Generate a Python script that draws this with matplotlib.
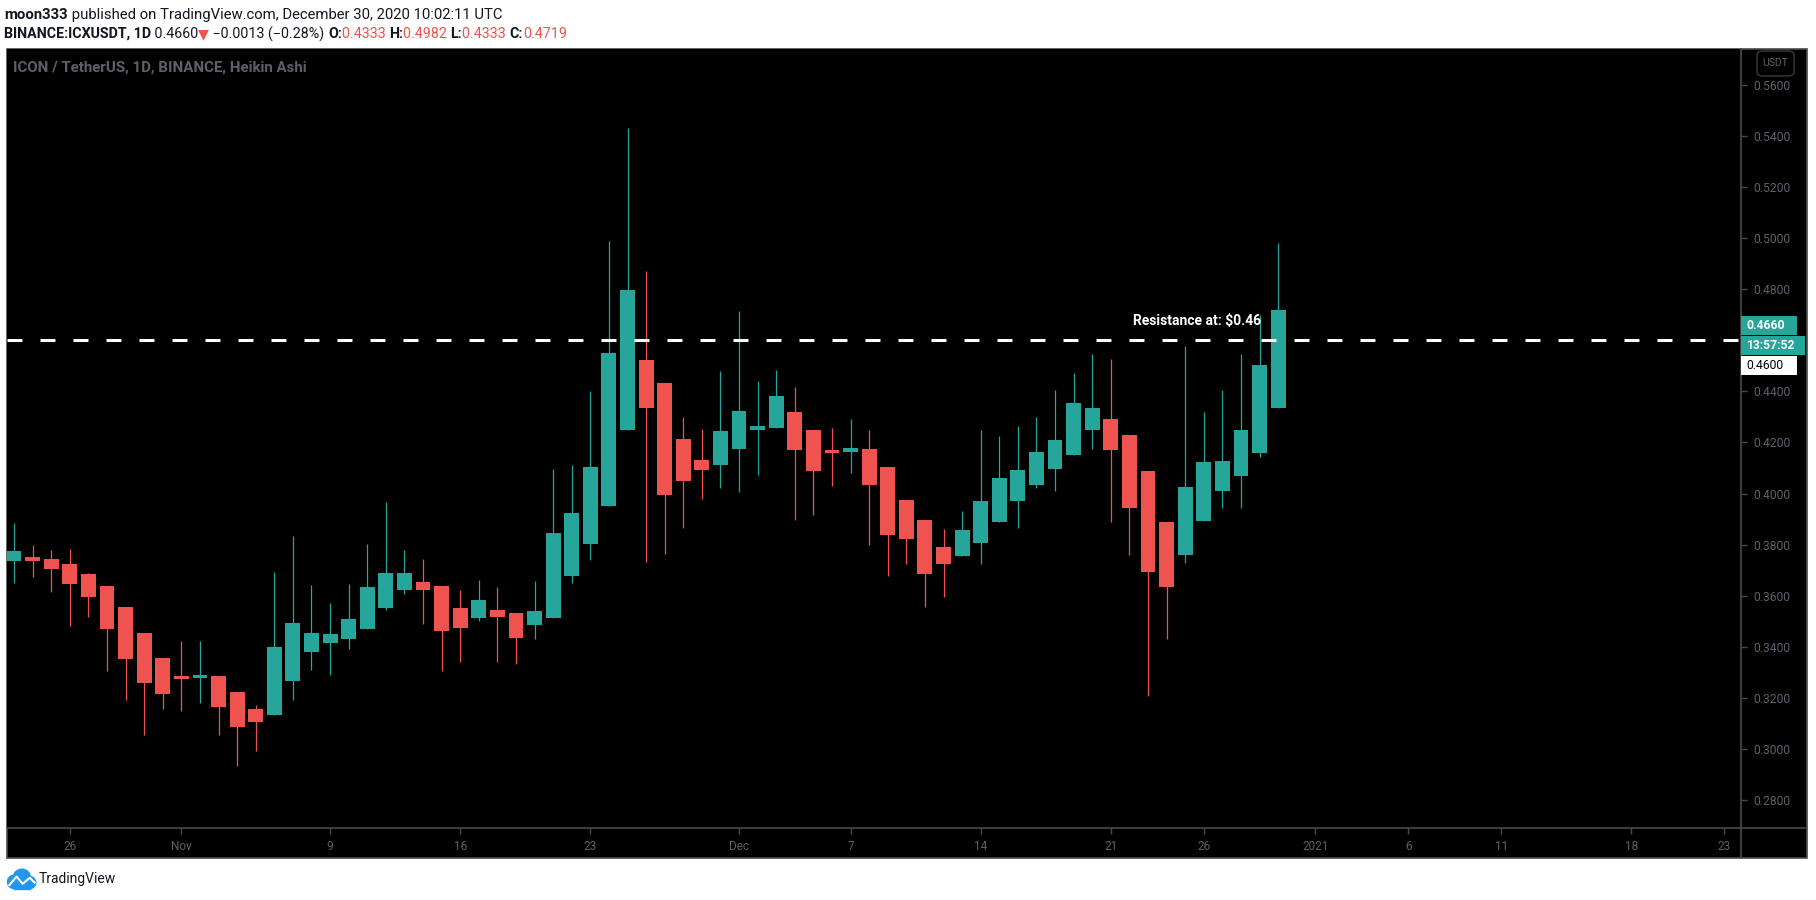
import matplotlib
matplotlib.use('Agg')
import matplotlib.pyplot as plt
import matplotlib.dates as mdates
import pandas as pd
from matplotlib.patches import Rectangle, Circle, FancyBboxPatch
from matplotlib.lines import Line2D
from matplotlib.transforms import blended_transform_factory

plt.rcParams['font.family'] = ['Roboto', 'DejaVu Sans']

# Heikin Ashi candles, ICXUSDT 1D, from 23 Oct 2020
start_day = '2020-10-23'
opens = [0.3735, 0.3753, 0.3745, 0.3725, 0.3686, 0.3639, 0.3557, 0.3455, 0.3357, 0.3286,
         0.3279, 0.3286, 0.3224, 0.3157, 0.3131, 0.3264, 0.3378, 0.3413, 0.3429, 0.3468,
         0.3550, 0.3621, 0.3655, 0.3639, 0.3553, 0.3511, 0.3545, 0.3533, 0.3484, 0.3511,
         0.3676, 0.3801, 0.3950, 0.4248, 0.4522, 0.4431, 0.4212, 0.4133, 0.4111, 0.4174,
         0.4248, 0.4256, 0.4318, 0.4247, 0.4169, 0.4162, 0.4173, 0.4102, 0.3973, 0.3898,
         0.3792, 0.3754, 0.3805, 0.3888, 0.3970, 0.4033, 0.4095, 0.4150, 0.4247, 0.4290,
         0.4231, 0.4090, 0.3890, 0.3758, 0.3891, 0.4009, 0.4068, 0.4158, 0.4333]
highs = [0.3886, 0.3800, 0.3780, 0.3784, 0.3690, 0.3639, 0.3557, 0.3455, 0.3357, 0.3424,
         0.3424, 0.3286, 0.3224, 0.3173, 0.3694, 0.3835, 0.3643, 0.3573, 0.3647, 0.3804,
         0.3965, 0.3780, 0.3745, 0.3639, 0.3624, 0.3663, 0.3635, 0.3533, 0.3659, 0.4098,
         0.4110, 0.4400, 0.4988, 0.5431, 0.4871, 0.4431, 0.4298, 0.4251, 0.4478, 0.4714,
         0.4439, 0.4482, 0.4416, 0.4247, 0.4255, 0.4290, 0.4247, 0.4102, 0.3973, 0.3898,
         0.3863, 0.3933, 0.4247, 0.4224, 0.4263, 0.4298, 0.4404, 0.4471, 0.4545, 0.4525,
         0.4231, 0.4090, 0.3890, 0.4576, 0.4318, 0.4404, 0.4545, 0.4698, 0.4982]
lows = [0.3648, 0.3672, 0.3613, 0.3480, 0.3515, 0.3303, 0.3190, 0.3056, 0.3158, 0.3150,
        0.3178, 0.3056, 0.2931, 0.2990, 0.3131, 0.3190, 0.3307, 0.3291, 0.3390, 0.3468,
        0.3542, 0.3605, 0.3488, 0.3303, 0.3342, 0.3500, 0.3342, 0.3334, 0.3432, 0.3511,
        0.3648, 0.3739, 0.3950, 0.4248, 0.3731, 0.3762, 0.3864, 0.3978, 0.4021, 0.4005,
        0.4072, 0.4256, 0.3895, 0.3915, 0.4029, 0.4080, 0.3797, 0.3676, 0.3723, 0.3554,
        0.3593, 0.3754, 0.3723, 0.3888, 0.3864, 0.4021, 0.4009, 0.4150, 0.4174, 0.3890,
        0.3758, 0.3208, 0.3429, 0.3727, 0.3891, 0.3942, 0.3942, 0.4142, 0.4333]
closes = [0.3773, 0.3735, 0.3703, 0.3644, 0.3593, 0.3468, 0.3350, 0.3256, 0.3213, 0.3274,
          0.3290, 0.3162, 0.3084, 0.3107, 0.3400, 0.3494, 0.3455, 0.3451, 0.3510, 0.3635,
          0.3690, 0.3690, 0.3621, 0.3460, 0.3472, 0.3584, 0.3515, 0.3436, 0.3541, 0.3847,
          0.3925, 0.4102, 0.4549, 0.4796, 0.4335, 0.3993, 0.4048, 0.4091, 0.4243, 0.4325,
          0.4263, 0.4380, 0.4170, 0.4087, 0.4158, 0.4180, 0.4033, 0.3836, 0.3821, 0.3684,
          0.3723, 0.3859, 0.3969, 0.4059, 0.4094, 0.4161, 0.4208, 0.4353, 0.4333, 0.4170,
          0.3942, 0.3691, 0.3633, 0.4027, 0.4125, 0.4129, 0.4247, 0.4502, 0.4719]

tick_days = ['2020-10-26', '2020-11-01', '2020-11-09', '2020-11-16', '2020-11-23',
             '2020-12-01', '2020-12-07', '2020-12-14', '2020-12-21', '2020-12-26',
             '2021-01-01', '2021-01-06', '2021-01-11', '2021-01-18', '2021-01-23']
tick_names = ['26', 'Nov', '9', '16', '23', 'Dec', '7', '14', '21', '26',
              '2021', '6', '11', '18', '23']
price_ticks = [0.28, 0.30, 0.32, 0.34, 0.36, 0.38, 0.40, 0.42, 0.44, 0.48,
               0.50, 0.52, 0.54, 0.56]

resistance = 0.46
last_price = 0.4660
countdown = '13:57:52'

UP = '#26a69a'
DOWN = '#ef5350'
GREY = '#5d606b'
EDGE = '#4a4a4a'
INK = '#131722'

W, H = 1816, 900


def fx(px):
    return px / W


def fy(py):
    return 1 - py / H


fig = plt.figure(figsize=(W / 100, H / 100), dpi=100)
fig.patch.set_facecolor('white')

# black chart frame with price / time scales
fig.patches.append(Rectangle((fx(7), fy(858)), fx(1807) - fx(7), fy(49) - fy(858),
                             transform=fig.transFigure, fc='black', ec=EDGE, lw=1.2, zorder=-5))

ax = fig.add_axes([fx(7), fy(828), fx(1741) - fx(7), fy(49) - fy(828)])
ax.set_facecolor('black')
for s in ax.spines.values():
    s.set_visible(False)

days = mdates.date2num(pd.date_range(start_day, periods=len(opens), freq='D'))
cols = [UP if c >= o else DOWN for o, c in zip(opens, closes)]
bottoms = [min(o, c) for o, c in zip(opens, closes)]
heights = [max(abs(c - o), 0.0006) for o, c in zip(opens, closes)]

ax.vlines(days, lows, highs, colors=cols, lw=0.9, zorder=2)
ax.bar(days, heights, width=0.8, bottom=bottoms, color=cols, zorder=3)

ax.set_xlim(days[0] - 0.38, days[-1] + 24.9)
ax.set_ylim(0.2690, 0.5741)

ax.set_xticks(mdates.date2num(pd.to_datetime(tick_days)))
ax.set_xticklabels(tick_names)
ax.tick_params(axis='x', direction='out', length=4, width=1, color=EDGE,
               labelcolor=GREY, labelsize=8.5, pad=5)

ax.yaxis.tick_right()
ax.set_yticks(price_ticks)
ax.set_yticklabels([f'{p:.4f}' for p in price_ticks])
ax.tick_params(axis='y', direction='out', length=4, width=1, color=EDGE,
               labelcolor=GREY, labelsize=8.7, pad=5)

# resistance line and label
ax.axhline(resistance, color='white', lw=2.2, dashes=(4.9, 5.9), zorder=5)
mix = blended_transform_factory(ax.transAxes, ax.transData)
ax.text(0.7232, resistance + 0.0075, 'Resistance at: \\$0.46', transform=mix,
        ha='right', va='center', color='white', fontsize=10, weight='bold', zorder=6)

# scale separators
fig.lines.append(Line2D([fx(1741), fx(1741)], [fy(49), fy(858)], transform=fig.transFigure,
                        color=EDGE, lw=1.2))
fig.lines.append(Line2D([fx(7), fx(1807)], [fy(828), fy(828)], transform=fig.transFigure,
                        color=EDGE, lw=1.2))

# legend of the series
fig.text(fx(13), fy(68), 'ICON / TetherUS, 1D, BINANCE, Heikin Ashi', color=GREY,
         fontsize=10.8, weight='bold', va='center')

# currency badge
fig.patches.append(FancyBboxPatch((fx(1757), fy(76)), fx(37), 25 / H,
                                  boxstyle='round,pad=0,rounding_size=0.004',
                                  transform=fig.transFigure, fc='black', ec='#3a3a3a', lw=1))
fig.text(fx(1775.5), fy(63.5), 'USDT', color=GREY, fontsize=7.5, ha='center', va='center')

# price scale labels for last price / countdown / resistance
ypx = H - ax.transData.transform((days[0], last_price))[1]
bh = 19
for top, wpx, fc, tc, txt, wt in [(ypx - bh / 2, 56, UP, 'white', f'{last_price:.4f}', 'bold'),
                                  (ypx + bh / 2 + 1, 64, UP, 'white', countdown, 'bold'),
                                  (ypx + 1.5 * bh + 2, 56, 'white', 'black', f'{resistance:.4f}', 'normal')]:
    fig.patches.append(Rectangle((fx(1741), fy(top + bh)), fx(wpx), bh / H,
                                 transform=fig.transFigure, fc=fc, ec='none', zorder=5))
    fig.text(fx(1746), fy(top + bh / 2), txt, color=tc, fontsize=8.7, weight=wt,
             va='center', ha='left', zorder=6)

# header lines
renderer = fig.canvas.get_renderer()


def put_line(pieces, x, y, size):
    for s, color, weight in pieces:
        t = fig.text(x, y, s, color=color, weight=weight, fontsize=size, va='center', ha='left')
        x += t.get_window_extent(renderer=renderer).width / W


put_line([('moon333', INK, 'bold'),
          (' published on TradingView.com, December 30, 2020 10:02:11 UTC', INK, 'normal')],
         fx(4), fy(15), 10.7)
put_line([('BINANCE:ICXUSDT, 1D', INK, 'bold'),
          (' 0.4660', INK, 'normal'),
          ('▼', DOWN, 'normal'),
          (' \u22120.0013 (\u22120.28%) ', INK, 'normal'),
          ('O:', INK, 'bold'), (f'{opens[-1]:.4f} ', DOWN, 'normal'),
          ('H:', INK, 'bold'), (f'{highs[-1]:.4f} ', DOWN, 'normal'),
          ('L:', INK, 'bold'), (f'{lows[-1]:.4f} ', DOWN, 'normal'),
          ('C:', INK, 'bold'), (f'{closes[-1]:.4f}', DOWN, 'normal')],
         fx(4), fy(34), 10.3)

# TradingView logo
lg = fig.add_axes([fx(7), fy(891), fx(30), 24 / H])
lg.set_xlim(0, 1.25)
lg.set_ylim(0, 1)
lg.axis('off')
for cx, cy, r in [(0.3, 0.38, 0.28), (0.62, 0.55, 0.36), (0.95, 0.35, 0.25)]:
    lg.add_patch(Circle((cx, cy), r, color='#2196f3'))
lg.add_patch(Rectangle((0.3, 0.1), 0.65, 0.3, color='#2196f3'))
lg.plot([0.1, 0.4, 0.65, 0.95, 1.15], [0.25, 0.6, 0.3, 0.55, 0.35], color='white', lw=1.5)
fig.text(fx(39), fy(879), 'TradingView', color=INK, fontsize=10, va='center', ha='left')

fig.savefig('out.png', dpi=100, facecolor=fig.get_facecolor())
